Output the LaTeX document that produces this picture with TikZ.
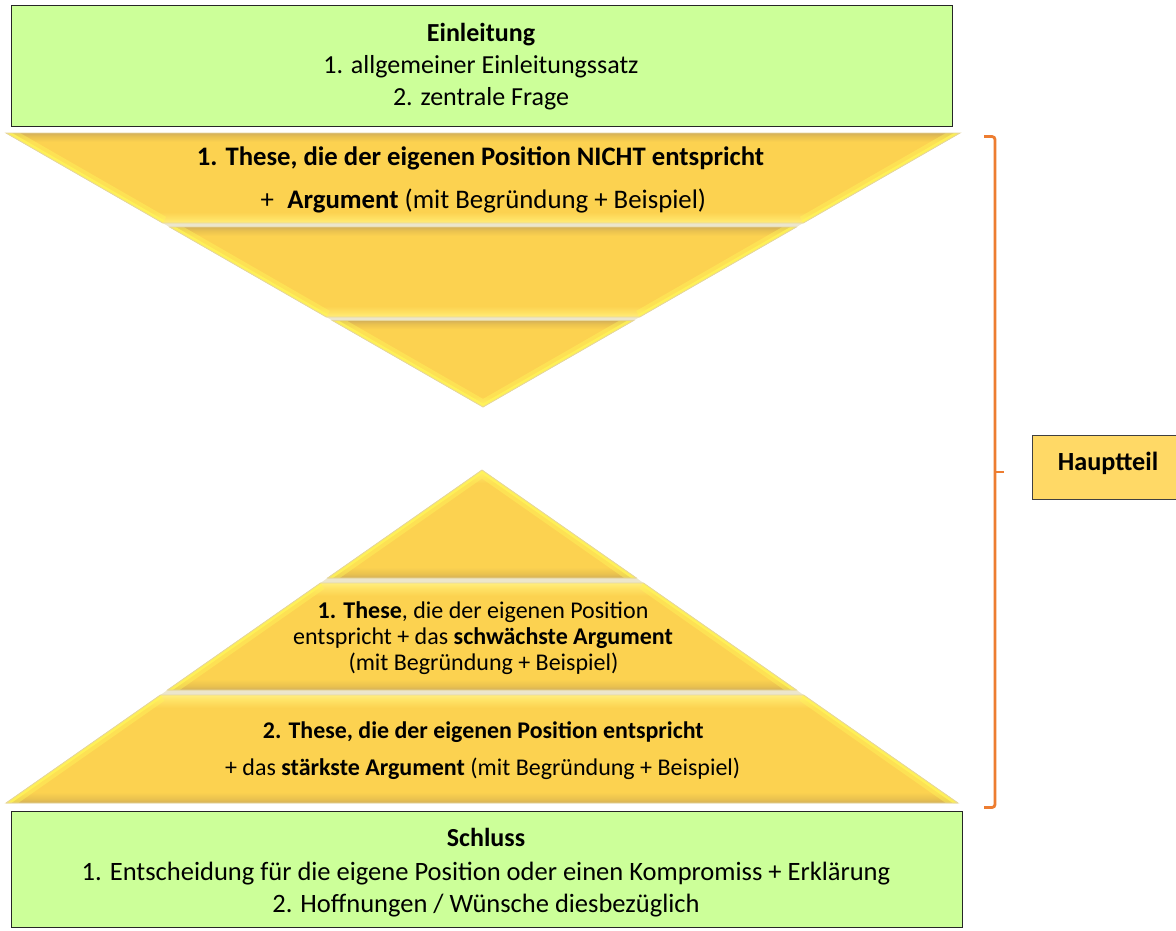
\documentclass[tikz,border=0pt]{standalone}
\usepackage{fontspec}
\setmainfont{Carlito}
\definecolor{gmain}{HTML}{FCD250}
\definecolor{gdark}{HTML}{D4B05A}
\definecolor{gmid}{HTML}{EAC24F}
\definecolor{glight}{HTML}{FFE468}
\definecolor{glight2}{HTML}{FFEE80}
\definecolor{boxgreen}{HTML}{CCFF99}
\definecolor{boxgold}{HTML}{FFD966}
\definecolor{gapcol}{HTML}{ECE6CC}
\definecolor{edgecol}{HTML}{E6D69C}
\definecolor{bevelcol}{HTML}{FFF45A}
\definecolor{braceor}{HTML}{ED7D31}
\pgfdeclareverticalshading{pyrband}{100bp}{color(0bp)=(gdark); color(25bp)=(gdark); color(27bp)=(gmid); color(30bp)=(gmain); color(69bp)=(gmain); color(73bp)=(glight); color(75bp)=(glight2); color(100bp)=(glight2)}
\pgfdeclareverticalshading{invband}{100bp}{color(0bp)=(glight2); color(25bp)=(glight2); color(27bp)=(glight); color(31bp)=(gmain); color(70bp)=(gmain); color(73bp)=(gmid); color(75bp)=(gdark); color(100bp)=(gdark)}
% #1 cx, #2 ytop, #3 htop, #4 ybot, #5 hbot, #6 shading
\newcommand\goldband[6]{%
  \path[shading=#6] (#1-#3,#2) -- (#1+#3,#2) -- (#1+#5,#4) -- (#1-#5,#4) -- cycle;
  \begin{scope}
    \clip (#1-#3,#2) -- (#1+#3,#2) -- (#1+#5,#4) -- (#1-#5,#4) -- cycle;
    \draw[bevelcol, line width=14pt, opacity=0.45] (#1-#3,#2) -- (#1-#5,#4) (#1+#3,#2) -- (#1+#5,#4);
    \draw[bevelcol, line width=6pt, opacity=0.8] (#1-#3,#2) -- (#1-#5,#4) (#1+#3,#2) -- (#1+#5,#4);
  \end{scope}
  \draw[edgecol, line width=0.8pt] (#1-#3,#2) -- (#1+#3,#2) -- (#1+#5,#4) -- (#1-#5,#4) -- cycle;
}
\begin{document}
\begin{tikzpicture}[x=1pt,y=-1pt,
  greenbox/.style={draw=black!85, line width=1.3pt, fill=boxgreen, anchor=north west, inner sep=0pt},
  goldbox/.style={draw=black!75, line width=1.3pt, fill=boxgold, anchor=north west, inner sep=0pt},
  txt/.style={anchor=base, inner sep=0pt, text=black},
  brace/.style={draw=braceor, line width=2.8pt, rounded corners=3pt}]
\useasboundingbox[fill=white] (0,0) rectangle (1176,930);

% boxes
\node[greenbox, minimum width=941pt, minimum height=121pt] (einl) at (10.5,5) {};
\node[greenbox, minimum width=951.5pt, minimum height=116pt] (schl) at (10.5,811) {};
\node[goldbox, minimum width=160pt, minimum height=64pt] (haupt) at (1032,435) {};

% inverted triangle
\fill[gapcol] (6,133) -- (960,133) -- (483,407) -- cycle;
\goldband{483}{133}{477}{223}{320.3}{invband}
\goldband{483}{227}{313.4}{317}{156.7}{invband}
\goldband{483}{320.5}{150.6}{407}{0}{invband}

% pyramid
\fill[gapcol] (482,470) -- (958,803) -- (6,803) -- cycle;
\goldband{482}{470}{0}{578}{154.4}{pyrband}
\goldband{482}{583}{161.5}{690}{314.5}{pyrband}
\goldband{482}{695}{321.6}{803}{476}{pyrband}

% bracket
\coordinate (bTop) at (984,136.5);
\coordinate (bBot) at (984,807.5);
\coordinate (bMid) at (995,472);
\coordinate (bTip) at (1004,472);
\draw[brace] (bTop) -- (995,136.5) -- (995,807.5) -- (bBot);
\draw[draw=braceor, line width=2.8pt] (bMid) -- (bTip);

% texts
\node[txt, font=\bfseries\fontsize{26}{31}\selectfont] (e1) at (481,41.7) {Einleitung};
\node[txt, font=\fontsize{26}{31}\selectfont] (e2) at (481,73) {1. allgemeiner Einleitungssatz};
\node[txt, font=\fontsize{26}{31}\selectfont] (e3) at (481,105) {2. zentrale Frage};

\node[txt, font=\bfseries\fontsize{26.7}{32}\selectfont] (t1) at (480.5,165.5) {1. These, die der eigenen Position NICHT entspricht};
\node[txt, font=\fontsize{26.8}{32}\selectfont] (t2) at (483.4,208) {+\enspace\textbf{Argument} (mit Begründung + Beispiel)};

\node[txt, font=\fontsize{24}{26}\selectfont] (p1) at (483,618) {\textbf{1. These}, die der eigenen Position};
\node[txt, font=\fontsize{24}{26}\selectfont] (p2) at (483,644) {entspricht + das \textbf{schwächste Argument}};
\node[txt, font=\fontsize{24}{26}\selectfont] (p3) at (483.5,670) {(mit Begründung + Beispiel)};

\node[txt, font=\bfseries\fontsize{23.9}{30}\selectfont] (q1) at (483.3,738) {2. These, die der eigenen Position entspricht};
\node[txt, font=\fontsize{24}{30}\selectfont] (q2) at (482.7,775) {+ das \textbf{stärkste Argument} (mit Begründung + Beispiel)};

\node[txt, font=\bfseries\fontsize{26}{31}\selectfont] (s1) at (486,846.7) {Schluss};
\node[txt, font=\fontsize{26.5}{31}\selectfont] (s2) at (486,880) {1. Entscheidung für die eigene Position oder einen Kompromiss + Erklärung};
\node[txt, font=\fontsize{26.5}{31}\selectfont] (s3) at (486,912) {2. Hoffnungen / Wünsche diesbezüglich};

\node[txt, font=\bfseries\fontsize{26.2}{31}\selectfont] (h1) at (1108,470) {Hauptteil};
\end{tikzpicture}
\end{document}
